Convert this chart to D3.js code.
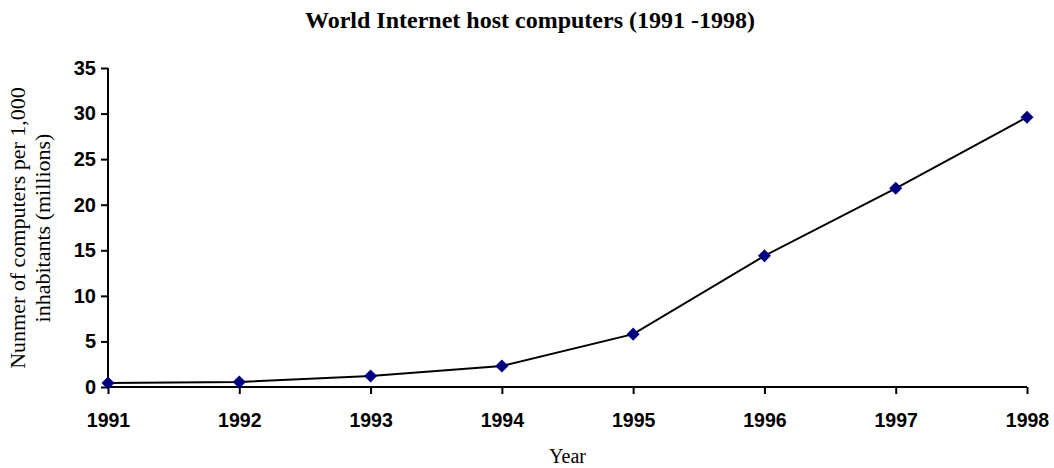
<!DOCTYPE html>
<html>
<head>
<meta charset="utf-8">
<script src="https://cdn.jsdelivr.net/npm/d3@7"></script>
<style>
  html, body { margin: 0; padding: 0; background: #fff; }
  svg { display: block; }
</style>
</head>
<body>
<svg id="chart" width="1054" height="468"></svg>
<script>
// Internet hosts per year (millions)
const years = ["1991", "1992", "1993", "1994", "1995", "1996", "1997", "1998"];
const hosts = [0.45, 0.55, 1.2, 2.3, 5.8, 14.4, 21.8, 29.6];
const yTicks = [0, 5, 10, 15, 20, 25, 30, 35];

const svg = d3.select("#chart");
const margin = { left: 108, right: 27, top: 68, bottom: 81 };
const W = 1054, H = 468;

const x = d3.scalePoint().domain(years).range([margin.left, W - margin.right]);
const y = d3.scaleLinear().domain([0, 35]).range([H - margin.bottom, margin.top]);

// Title
svg.append("text")
  .attr("x", 530).attr("y", 28)
  .attr("text-anchor", "middle")
  .attr("font-family", "'Liberation Serif', 'Times New Roman', serif")
  .attr("font-weight", "bold")
  .attr("font-size", 24)
  .text("World Internet host computers (1991 -1998)");

// X axis
const xAxis = svg.append("g")
  .attr("transform", `translate(0,${y(0)})`)
  .call(d3.axisBottom(x).tickSize(7).tickPadding(19));
xAxis.select(".domain").attr("stroke", "#000").attr("stroke-width", 2).attr("d", `M${margin.left},0H${W - margin.right}`);
xAxis.selectAll(".tick line").attr("stroke", "#000").attr("stroke-width", 2);
xAxis.selectAll(".tick text")
  .attr("font-family", "'Liberation Sans', Arial, sans-serif")
  .attr("font-weight", "bold")
  .attr("font-size", 19.5)
  .attr("fill", "#000");

// Y axis
const yAxis = svg.append("g")
  .attr("transform", `translate(${margin.left},0)`)
  .call(d3.axisLeft(y).tickValues(yTicks).tickSize(7).tickPadding(5));
yAxis.select(".domain").attr("stroke", "#000").attr("stroke-width", 2).attr("d", `M0,${y(35)}V${y(0)}`);
yAxis.selectAll(".tick line").attr("stroke", "#000").attr("stroke-width", 2);
yAxis.selectAll(".tick text")
  .attr("font-family", "'Liberation Sans', Arial, sans-serif")
  .attr("font-weight", "bold")
  .attr("font-size", 20)
  .attr("fill", "#000");

// Axis titles
const yLab = svg.append("text")
  .attr("transform", "translate(25,228) rotate(-90)")
  .attr("text-anchor", "middle")
  .attr("font-family", "'Liberation Serif', 'Times New Roman', serif")
  .attr("font-size", 22)
  .attr("fill", "#000");
yLab.append("tspan").attr("x", 0).attr("dy", 0).text("Nunmer of computers per 1,000");
yLab.append("tspan").attr("x", 0).attr("dy", 25).text("inhabitants (millions)");

svg.append("text")
  .attr("x", (margin.left + W - margin.right) / 2)
  .attr("y", 463)
  .attr("text-anchor", "middle")
  .attr("font-family", "'Liberation Serif', 'Times New Roman', serif")
  .attr("font-size", 20)
  .attr("fill", "#000")
  .text("Year");

// Series line
const line = d3.line().x((d, i) => x(years[i])).y(d => y(d));
svg.append("path")
  .datum(hosts)
  .attr("fill", "none")
  .attr("stroke", "#000")
  .attr("stroke-width", 2)
  .attr("d", line);

// Diamond markers
const diamond = d3.symbol().type(d3.symbolSquare).size(85);
svg.append("g").selectAll("path")
  .data(hosts)
  .join("path")
  .attr("d", diamond)
  .attr("transform", (d, i) => `translate(${x(years[i])},${y(d)}) rotate(45)`)
  .attr("fill", "#000080");
</script>
</body>
</html>
